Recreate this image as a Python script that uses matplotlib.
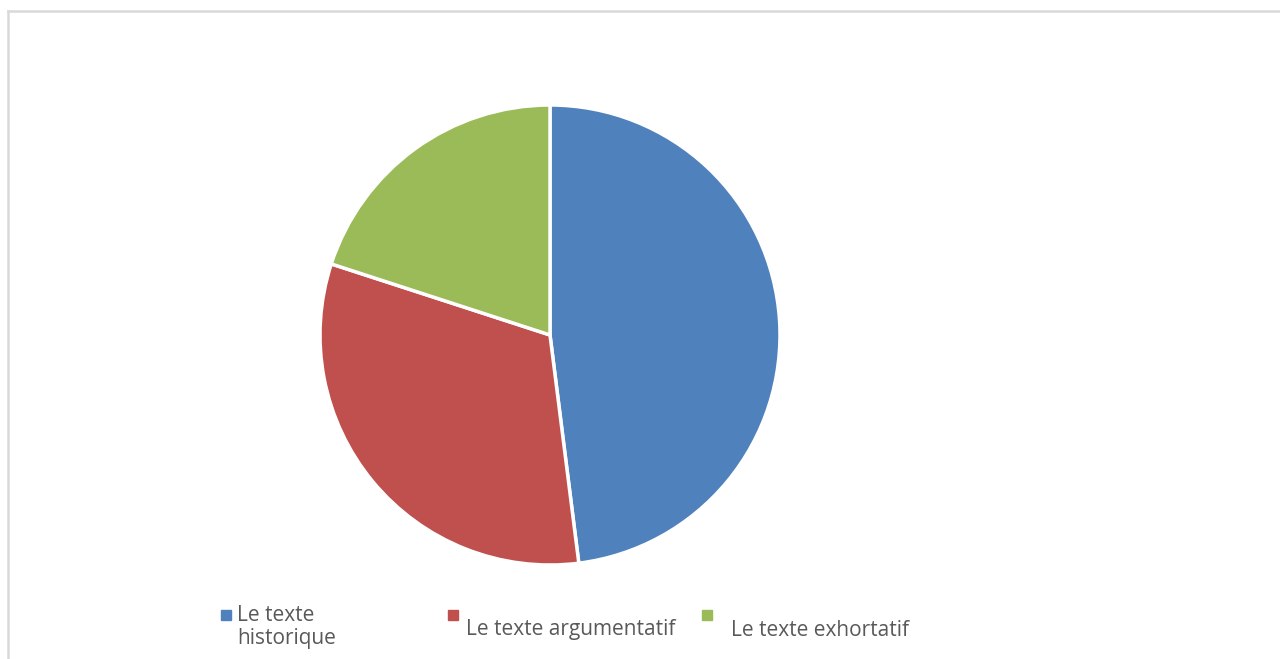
import matplotlib.pyplot as plt
from matplotlib.patches import Rectangle
from matplotlib.lines import Line2D

labels = ['Le texte\nhistorique', 'Le texte argumentatif', 'Le texte exhortatif']
values = [48, 32, 20]
colors = ['#4F81BD', '#C0504D', '#9BBB59']

W, H = 1280, 659
fig = plt.figure(figsize=(W / 100, H / 100), dpi=100)
fig.patch.set_facecolor('white')

# chart frame (top and left edges visible)
fig.add_artist(Line2D([8 / W, 1], [1 - 11 / H, 1 - 11 / H], color='#d9d9d9', lw=1.8))
fig.add_artist(Line2D([8 / W, 8 / W], [0, 1 - 11 / H], color='#d9d9d9', lw=1.8))

# pie centred at (550, 335) px, radius 230 px
cx, cy, r = 550, 335, 230
ax = fig.add_axes([(cx - r) / W, (H - cy - r) / H, 2 * r / W, 2 * r / H])
ax.pie(values, colors=colors, startangle=90, counterclock=False,
       wedgeprops=dict(edgecolor='white', linewidth=2.5))
ax.set_xlim(-1, 1)
ax.set_ylim(-1, 1)
ax.set_aspect('auto')
ax.axis('off')

# legend drawn by hand to mirror the layout
sq = 10
fs = 15
items = [(221, 610, 237, 605, 'top'), (448, 610, 466, 630, 'center'), (702, 610, 731, 630, 'center')]
for (sx, sy, tx, ty, va), lab, c in zip(items, labels, colors):
    fig.add_artist(Rectangle((sx / W, 1 - (sy + sq) / H), sq / W, sq / H,
                             transform=fig.transFigure, color=c))
    if va == 'top':
        fig.text(tx / W, 1 - ty / H, lab, ha='left', va='top', fontsize=fs,
                 color='#595959', family='Open Sans', linespacing=1.15)
    else:
        fig.text(tx / W, 1 - ty / H, lab, ha='left', va='center', fontsize=fs,
                 color='#595959', family='Open Sans')

fig.savefig('out.png', dpi=100)
